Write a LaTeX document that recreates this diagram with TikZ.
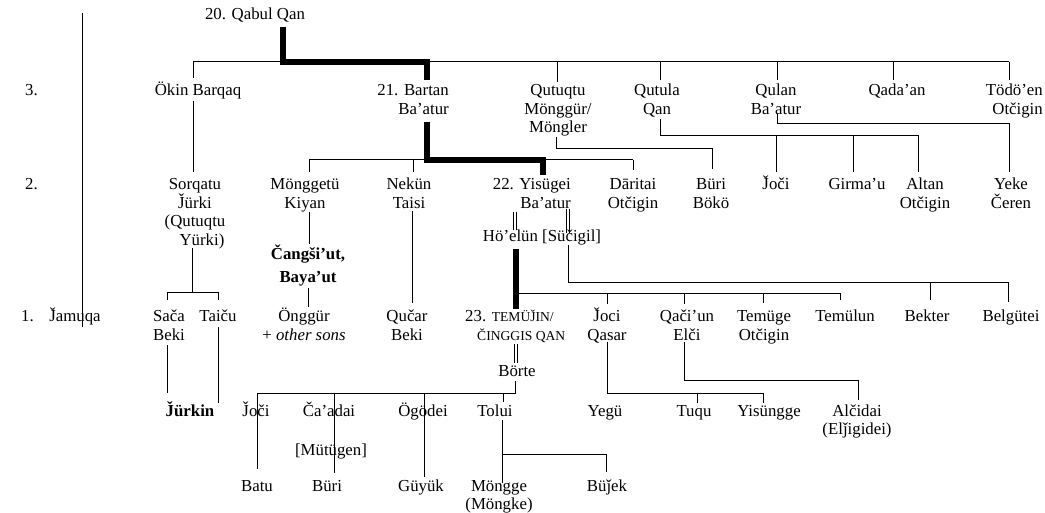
\documentclass[tikz,border=0pt]{standalone}
\usepackage{fontspec}
\setmainfont{Liberation Serif}
% capital J with caron, built from J and a raised caron
\newcommand\Jc{\ooalign{J\cr\hidewidth\raisebox{0.17em}{ˇ}\hidewidth\cr}}
% small capitals imitated with a reduced size
\newcommand\smc[1]{{\fontsize{13.6}{18.5}\selectfont #1}}
\begin{document}
\begin{tikzpicture}[x=1pt,y=-1pt,
  every node/.style={inner sep=0pt, anchor=base, align=center,
    font=\fontsize{16.8}{18.5}\selectfont},
  ln/.style={line width=1pt},
  heir/.style={line width=5.5pt, line cap=butt, line join=miter},
  dbl/.style={line width=0.9pt}]
\useasboundingbox (0,0) rectangle (1045,513);
% multi-line nodes are placed by the baseline of their last line

% generation labels
\node (lab3) [anchor=base west] at (25,96) {3.};
\node (lab2) [anchor=base west] at (25,190) {2.};
\node (lab1) [anchor=base west] at (21,322) {1.};

% generation 3
\node (qabul) at (255,20) {20. Qabul Qan};
\node (okin) at (198,96) {Ökin Barqaq};
\node (bartan) [anchor=base east, align=right] at (449,114.5) {21. Bartan\\Ba’atur};
\node (qutuqtu) at (558,133) {Qutuqtu\\Mönggür/\\Möngler};
\node (qutula) at (657,114.5) {Qutula\\Qan};
\node (qulan) at (776,114.5) {Qulan\\Ba’atur};
\node (qadaan) at (897,96) {Qada’an};
\node (todoen) [anchor=base east, align=right] at (1043,114.5) {Tödö’en\\Otčigin};

% generation 2
\node (sorqatu) at (195,245.5) {Sorqatu\\\Jc ürki\\(Qutuqtu\\\hspace*{14pt}Yürki)};
\node (monggetu) at (305,208.5) {Mönggetü\\Kiyan};
\node (nekun) at (409,208.5) {Nekün\\Taisi};
\node (yisugei) [anchor=base east, align=right] at (571,208.5) {22. Yisügei\\Ba’atur};
\node (daritai) at (633,208.5) {Dāritai\\Otčigin};
\node (buri1) at (711,208.5) {Büri\\Bökö};
\node (joci1) at (776,190) {\Jc oči};
\node (girmau) at (857,190) {Girma’u};
\node (altan) at (925,208.5) {Altan\\Otčigin};
\node (yeke) at (1011,208.5) {Yeke\\Čeren};
\node (hoelun) at (542,242) {Hö’elün [Süčigil]};
\node (cangsiut) [font=\fontsize{16.8}{23}\selectfont\bfseries] at (308,283) {Čangši’ut,\\Baya’ut};

% generation 1
\node (jamuqa) at (75,322) {\Jc amuqa};
\node (saca) at (169,340.5) {Sača\\Beki};
\node (taicu) at (218,322) {Taiču};
\node (onggur) at (304,340.5) {Önggür\\+ \textit{other sons}};
\node (qucar) at (407,340.5) {Qučar\\Beki};
\node (temujin) [anchor=base west, align=left] at (465,340.5)
  {23. \smc{TEMÜ\Jc IN/}\\\hspace*{12pt}\smc{ČINGGIS QAN}};
\node (jociq) at (607,340.5) {\Jc oci\\Qasar};
\node (qaciun) at (687,340.5) {Qači’un\\Elči};
\node (temuge) at (764,340.5) {Temüge\\Otčigin};
\node (temulun) at (845,322) {Temülun};
\node (bekter) at (927,322) {Bekter};
\node (belgutei) at (1011,322) {Belgütei};
\node (borte) at (517,377) {Börte};

% grandsons
\node (jurkin) [font=\fontsize{16.8}{18.5}\selectfont\bfseries] at (190,416) {\Jc ürkin};
\node (joci2) at (256,416) {\Jc oči};
\node (caadai) at (329,416) {Ča’adai};
\node (ogodei) at (423,416) {Ögödei};
\node (tolui) at (495,416) {Tolui};
\node (yegu) at (605,416) {Yegü};
\node (tuqu) at (694,416) {Tuqu};
\node (yisungge) at (769,416) {Yisüngge};
\node (alcidai) at (857,434.5) {Alčidai\\(Elǰigidei)};
\node (mutugen) at (331,455) {[Mütügen]};
\node (batu) at (257,491) {Batu};
\node (buri2) at (327,491) {Büri};
\node (guyuk) at (421,491) {Güyük};
\node (mongge) at (499,509.5) {Möngge\\(Möngke)};
\node (bujek) at (607,491) {Büǰek};

% rule beside the generation labels
\coordinate (rule-top) at (82,13);
\coordinate (rule-bot) at (82,327);
\draw[ln] (rule-top) -- (rule-bot);

% descendants of Qabul Qan
\coordinate (q-top) at (283,27);
\coordinate (q-bar) at (283,62);
\coordinate (b-bar) at (427,62);
\coordinate (b-top) at (427,80);
\draw[ln] (193,62) -- (1009,62);
\foreach \x/\y in {193/78,557/82,660/80,777/80,893/80,1009/80}
  \draw[ln] (\x,62) -- (\x,\y);
\draw[heir] (q-top) -- (q-bar) -- (b-bar) -- (b-top);

% Okin Barqaq to Sorqatu
\draw[ln] (193,101) -- (193,172);

% descendants of Bartan Ba'atur
\coordinate (b-bot) at (427,122);
\coordinate (y-bar) at (543,160);
\coordinate (y-top) at (543,175);
\draw[ln] (309,160) -- (633,160);
\foreach \x/\y in {309/172,413/172,633/170}
  \draw[ln] (\x,160) -- (\x,\y);
\draw[heir] (b-bot) -- (427,160) -- (y-bar) -- (y-top);

% Qutuqtu to Buri Boko
\draw[ln] (556,137) -- (556,149) -- (712,149) -- (712,169);
% Qutula Qan to his sons
\draw[ln] (660,119) -- (660,136) -- (918,136) -- (918,172);
\foreach \x in {776,853}
  \draw[ln] (\x,136) -- (\x,172);
% Qulan Ba'atur to Yeke Ceren
\draw[ln] (777,114) -- (777,124) -- (1009,124) -- (1009,172);

% marriage of Yisugei and Ho'elun / Sucigil
\foreach \x in {513,516} \draw[dbl] (\x,212) -- (\x,230);
\foreach \x in {566,569} \draw[dbl] (\x,209) -- (\x,233);

% children of Yisugei
\coordinate (h-bot) at (516,249);
\coordinate (t-top) at (516,309);
\draw[ln] (568,245) -- (568,283) -- (1008,283) -- (1008,302);
\draw[ln] (930,283) -- (930,300);
\draw[ln] (516,294) -- (840,294) -- (840,300);
\foreach \x/\y in {607/304,684/304,763/303}
  \draw[ln] (\x,294) -- (\x,\y);
\draw[heir] (h-bot) -- (t-top);

% Sorqatu Jurki to Saca Beki and Taicu
\draw[ln] (192,248) -- (192,293);
\draw[ln] (167,300) -- (167,293) -- (218,293) -- (218,300);
\draw[ln] (167,345) -- (167,393);
\draw[ln] (218,327) -- (218,403);

% Mongetu Kiyan line
\draw[ln] (309,212) -- (309,244);
\draw[ln] (308,288) -- (308,307);
% Nekun Taisi to Qucar Beki
\draw[ln] (412,211) -- (412,303);

% Temujin and Borte
\foreach \x in {514,517} \draw[dbl] (\x,344) -- (\x,363);
\draw[ln] (515,381) -- (515,393) -- (257,393);
\foreach \x/\y in {257/469,334/473,424/477,503/402}
  \draw[ln] (\x,393) -- (\x,\y);
% Tolui's sons
\draw[ln] (502,420) -- (502,483);
\draw[ln] (502,454) -- (606,454) -- (606,472);

% Joci Qasar's sons
\draw[ln] (607,342) -- (607,393) -- (763,393) -- (763,403);
\draw[ln] (697,393) -- (697,403);
% Qaci'un Elci's son
\draw[ln] (684,342) -- (684,380) -- (858,380) -- (858,400);
\end{tikzpicture}
\end{document}
